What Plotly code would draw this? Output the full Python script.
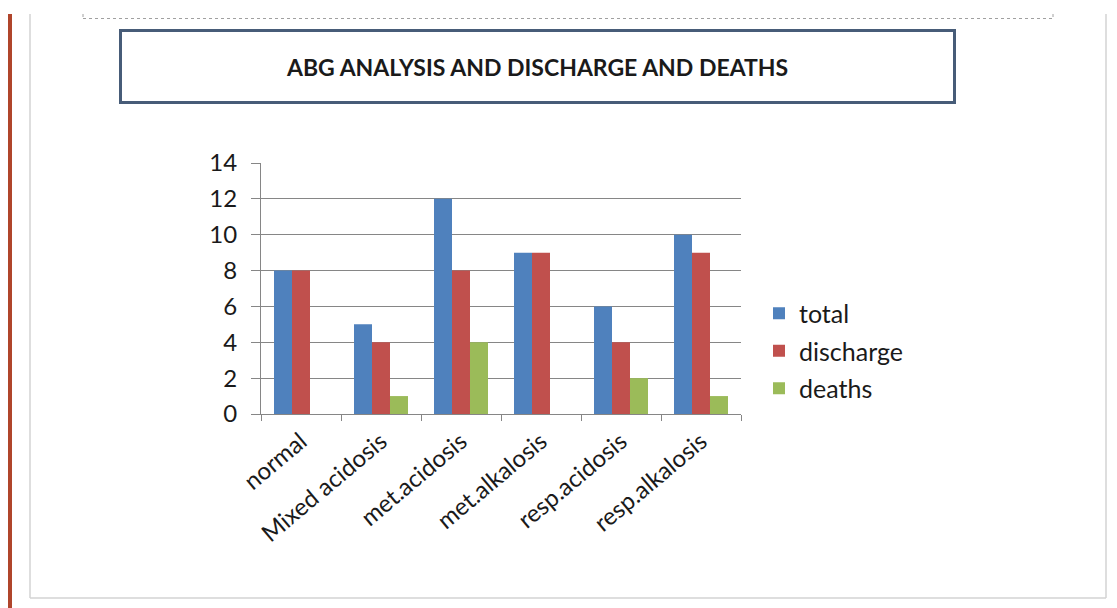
import plotly.graph_objects as go

categories = ["normal", "Mixed acidosis", "met.acidosis", "met.alkalosis", "resp.acidosis", "resp.alkalosis"]
total = [8, 5, 12, 9, 6, 10]
discharge = [8, 4, 8, 9, 4, 9]
deaths = [0, 1, 4, 0, 2, 1]
y_ticks = [0, 2, 4, 6, 8, 10, 12, 14]
title_text = "ABG ANALYSIS AND DISCHARGE AND DEATHS"

OFF = 8  # page body margin
W, H = 1117 - OFF, 608 - OFF
L, R, T, B = 261 - OFF, 741 - OFF, 163 - OFF, 414 - OFF  # plot area in figure pixels


def px(x):
    return (x - OFF - L) / (R - L)


def py(y):
    return (B - (y - OFF)) / (B - T)


FONT = "Lato"
fig = go.Figure()
for name, vals, col in [("total", total, "#4F81BD"),
                        ("discharge", discharge, "#C0504D"),
                        ("deaths", deaths, "#9BBB59")]:
    fig.add_trace(go.Bar(name=name, x=categories, y=vals, legendgroup=name,
                         marker=dict(color=col, line=dict(width=0))))

shapes = [
    dict(type="rect", xref="paper", yref="paper", x0=px(7), x1=px(12), y0=py(14), y1=py(610),
         fillcolor="#B0452B", line=dict(width=0), layer="below"),
    dict(type="line", xref="paper", yref="paper", x0=px(30), x1=px(30), y0=py(14), y1=py(598),
         line=dict(color="#D3D3D3", width=1.5)),
    dict(type="line", xref="paper", yref="paper", x0=px(30), x1=px(1106), y0=py(598), y1=py(598),
         line=dict(color="#D3D3D3", width=1.5)),
    dict(type="line", xref="paper", yref="paper", x0=px(1106), x1=px(1106), y0=py(14), y1=py(598),
         line=dict(color="#D3D3D3", width=1.5)),
    dict(type="line", xref="paper", yref="paper", x0=px(83), x1=px(1053), y0=py(18.5), y1=py(18.5),
         line=dict(color="#A0A0A0", width=1, dash="dot")),
    dict(type="line", xref="paper", yref="paper", x0=px(83), x1=px(83), y0=py(14), y1=py(18.5),
         line=dict(color="#A0A0A0", width=1, dash="dot")),
    dict(type="line", xref="paper", yref="paper", x0=px(1053), x1=px(1053), y0=py(14), y1=py(18.5),
         line=dict(color="#A0A0A0", width=1, dash="dot")),
    dict(type="rect", xref="paper", yref="paper", x0=px(120.5), x1=px(954.5), y0=py(30.5), y1=py(102.5),
         fillcolor="white", line=dict(color="#475C78", width=3)),
]

fig.update_layout(
    width=W, height=H,
    margin=dict(l=L, r=W - R, t=T, b=H - B, pad=0),
    paper_bgcolor="white", plot_bgcolor="white",
    barmode="group", bargap=0.325, bargroupgap=0,
    font=dict(family=FONT, color="#1A1A1A"),
    shapes=shapes,
    annotations=[dict(text="<b>" + title_text + "</b>", xref="paper", yref="paper",
                      x=px(537), y=py(67), xanchor="center", yanchor="middle",
                      showarrow=False, font=dict(family=FONT, size=23, color="#1A1A1A"))],
    legend=dict(x=px(759), y=py(351), xanchor="left", yanchor="middle",
                font=dict(family=FONT, size=25, color="#1A1A1A"),
                itemwidth=30, tracegroupgap=2, bgcolor="rgba(0,0,0,0)"),
    xaxis=dict(type="category", tickangle=-40, tickfont=dict(family=FONT, size=24, color="#1A1A1A"),
               showline=True, linecolor="#868686", linewidth=1,
               ticks="outside", tickson="boundaries", ticklen=6, tickcolor="#868686",
               ticklabelstandoff=3, showgrid=False),
    yaxis=dict(range=[0, 14], tickvals=y_ticks, tickfont=dict(family=FONT, size=24, color="#1A1A1A"),
               showline=True, linecolor="#868686", linewidth=1,
               ticks="outside", ticklen=9, tickcolor="#868686", ticklabelstandoff=9,
               showgrid=True, gridcolor="#868686", gridwidth=1, zeroline=False),
)

fig.write_html("out.html")
